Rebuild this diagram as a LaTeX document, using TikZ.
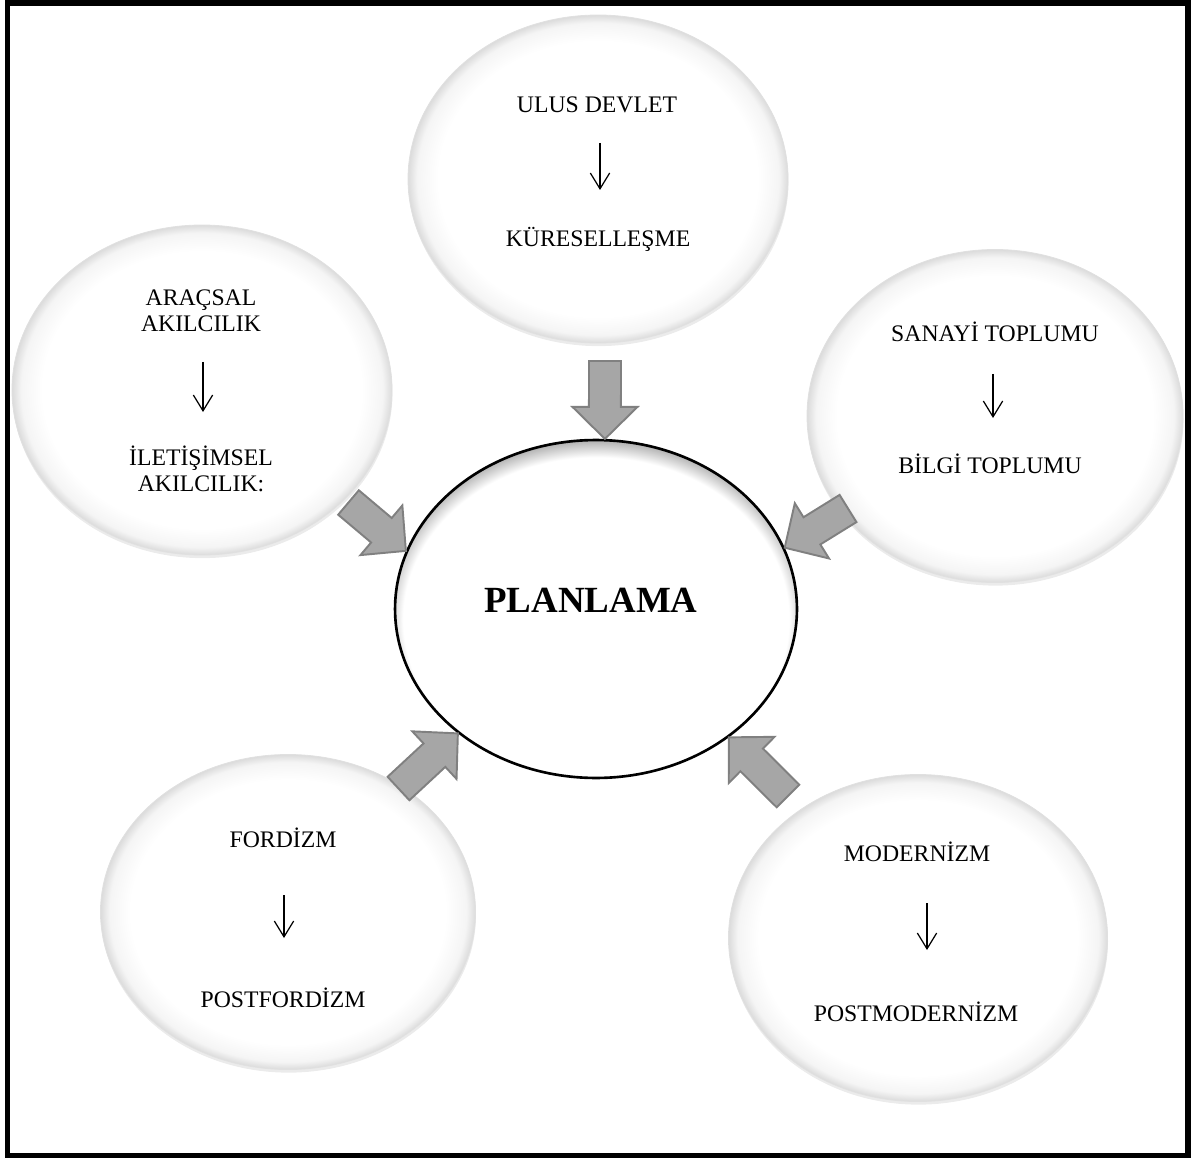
\documentclass[tikz,border=0pt]{standalone}
\usepackage{fontspec}
\setmainfont{Liberation Serif}
\usetikzlibrary{calc,shapes.geometric,arrows.meta,shadows}

\definecolor{arrowfill}{HTML}{A6A6A6}
\definecolor{arrowedge}{HTML}{808080}

\pgfdeclareradialshading{bubbleshade}{\pgfpoint{0bp}{0bp}}{%
  color(0bp)=(white); color(21bp)=(white); color(23.8bp)=(black!4);
  color(25bp)=(black!14); color(50bp)=(black!14)}
\pgfdeclareradialshading{coreshade}{\pgfpoint{0bp}{-3bp}}{%
  color(0bp)=(white); color(24bp)=(white); color(27.5bp)=(black!45);
  color(50bp)=(black!45)}

\tikzset{
  bubble/.style={ellipse, draw=black!12, line width=0.5pt, shading=bubbleshade,
    drop shadow={shadow xshift=0.3pt, shadow yshift=-1.8pt, opacity=0.16}},
  core/.style={ellipse, draw=black, line width=1.5pt, shading=coreshade,
    minimum width=8.04cm, minimum height=6.76cm},
  term/.style={anchor=base, inner sep=0pt, font=\fontsize{13.5}{16}\selectfont},
  smallarrow/.style={line width=0.7pt, -{Straight Barb[length=9pt,width=11pt]}},
  blockarrowstyle/.style={draw=arrowedge, fill=arrowfill, line width=1.1pt, line join=miter}
}

% block arrow from a free tail coordinate to a node anchor
\newcommand{\blockarrow}[2]{%
  \coordinate (ba-h) at ($(#2)!0.64cm!(#1)$);
  \draw[blockarrowstyle]
    ($(#1)!0.32cm!90:(#2)$) -- ($(ba-h)!0.32cm!90:(#2)$) --
    ($(ba-h)!0.65cm!90:(#2)$) -- (#2) --
    ($(ba-h)!0.65cm!-90:(#2)$) -- ($(ba-h)!0.32cm!-90:(#2)$) --
    ($(#1)!0.32cm!-90:(#2)$) -- cycle;
}

\begin{document}
\begin{tikzpicture}[x=0.02cm, y=-0.02cm]
  \useasboundingbox (0,0) rectangle (1192,1158);
  \draw[line width=0.12cm] (7.5,3.5) rectangle (1188,1155.5);

  % outer bubbles
  \node[bubble, minimum width=7.6cm, minimum height=6.56cm] (ulus) at (598,179) {};
  \node[bubble, minimum width=7.6cm, minimum height=6.6cm] (arac) at (202,390) {};
  \node[bubble, minimum width=7.52cm, minimum height=6.66cm] (sanayi) at (995,416) {};
  \node[bubble, minimum width=7.5cm, minimum height=6.3cm] (ford) at (288,912) {};
  \node[bubble, minimum width=7.58cm, minimum height=6.54cm] (modern) at (918,938) {};

  % centre
  \node[core] (plan) at (596,609) {};
  \node[term, font=\fontsize{21}{25}\selectfont\bfseries] (plantext) at (591,612) {PLANLAMA};

  % block arrows
  \coordinate (tailU) at (605,361);
  \coordinate (tailL) at (348.5,502.5);
  \coordinate (tailR) at (848,508.5);
  \coordinate (tailBL) at (398.5,788.5);
  \coordinate (tailBR) at (788,796);
  \blockarrow{tailU}{plan.87}
  \blockarrow{tailL}{plan.163}
  \blockarrow{tailR}{plan.18}
  \blockarrow{tailBL}{plan.222}
  \blockarrow{tailBR}{plan.316}

  % top
  \node[term] (ulusA) at (597,113) {ULUS DEVLET};
  \node[term] (ulusB) at (598,247) {KÜRESELLEŞME};
  \coordinate (ulusS) at (600,143);
  \coordinate (ulusE) at (600,190);
  \draw[smallarrow] (ulusS) -- (ulusE);

  % left
  \node[term] (aracA) at (201,306) {ARAÇSAL};
  \node[term] (aracB) at (201,332) {AKILCILIK};
  \node[term] (aracC) at (201,465) {İLETİŞİMSEL};
  \node[term] (aracD) at (201,491) {AKILCILIK:};
  \coordinate (aracS) at (203,362);
  \coordinate (aracE) at (203,412);
  \draw[smallarrow] (aracS) -- (aracE);

  % right
  \node[term] (sanayiA) at (995,342) {SANAYİ TOPLUMU};
  \node[term] (sanayiB) at (990,473) {BİLGİ TOPLUMU};
  \coordinate (sanayiS) at (993,374);
  \coordinate (sanayiE) at (993,418);
  \draw[smallarrow] (sanayiS) -- (sanayiE);

  % bottom left
  \node[term] (fordA) at (283,847) {FORDİZM};
  \node[term] (fordB) at (283,1007) {POSTFORDİZM};
  \coordinate (fordS) at (284,895);
  \coordinate (fordE) at (284,938);
  \draw[smallarrow] (fordS) -- (fordE);

  % bottom right
  \node[term] (modernA) at (917,861) {MODERNİZM};
  \node[term] (modernB) at (916,1021) {POSTMODERNİZM};
  \coordinate (modernS) at (927,903);
  \coordinate (modernE) at (927,950);
  \draw[smallarrow] (modernS) -- (modernE);
\end{tikzpicture}
\end{document}
